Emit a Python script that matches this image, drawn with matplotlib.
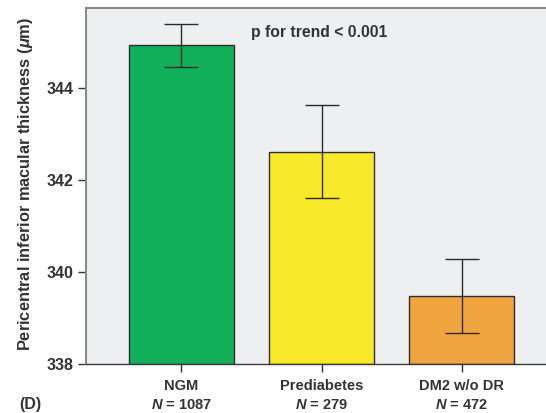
import matplotlib
matplotlib.use("Agg")
import matplotlib.pyplot as plt

plt.rcParams['font.family'] = ['Liberation Sans', 'DejaVu Sans']
plt.rcParams['mathtext.fontset'] = 'custom'
plt.rcParams['mathtext.bf'] = 'Liberation Sans:bold:italic'
plt.rcParams['mathtext.it'] = 'Liberation Sans:bold:italic'
plt.rcParams['mathtext.rm'] = 'Liberation Sans:bold'

groups = ["NGM", "Prediabetes", "DM2 w/o DR"]
counts = [1087, 279, 472]
means = [344.93, 342.62, 339.48]
errors = [0.47, 1.01, 0.81]
bar_colors = ["#12b05a", "#f7e829", "#f0a43f"]
yticks = [338, 340, 342, 344]

fig = plt.figure(figsize=(5.46, 4.13), dpi=100)
# axes box runs slightly past the right edge of the figure
ax = fig.add_axes([86 / 546, 1 - 364 / 413, (557 - 86) / 546, (364 - 8) / 413])
ax.set_facecolor("#eeeff1")

x = list(range(len(groups)))
ax.bar(x, [m - 338 for m in means], bottom=338, width=0.75,
       color=bar_colors, edgecolor="#2e2e2e", linewidth=1.0, zorder=2)
ax.errorbar(x, means, yerr=errors, fmt="none", ecolor="#2a2a2a",
            elinewidth=1.0, capsize=12, capthick=1.0, zorder=3)

ax.set_xlim(-0.68, 2.68)
ax.set_ylim(338, 345.74)
ax.set_yticks(yticks)
ax.set_yticklabels([str(t) for t in yticks], fontsize=11.5, fontweight="bold",
                   color="#333333")
ax.set_xticks(x)
ax.set_xticklabels([])
ax.tick_params(axis="both", direction="out", length=6, width=1.0,
               color="#333333", pad=3)

for side in ["left", "top", "right"]:
    ax.spines[side].set_color("#8a8a8a")
    ax.spines[side].set_linewidth(1.5)
ax.spines["bottom"].set_color("#3a3a3a")
ax.spines["bottom"].set_linewidth(1.0)

for xi, g, n in zip(x, groups, counts):
    ax.annotate(g, xy=(xi, 0), xycoords=("data", "axes fraction"),
                xytext=(0, -22), textcoords="offset pixels",
                ha="center", va="center", fontsize=10.5, fontweight="bold",
                color="#333333")
    ax.annotate(f"$\\mathit{{N}}$ = {n}", xy=(xi, 0),
                xycoords=("data", "axes fraction"),
                xytext=(0, -41), textcoords="offset pixels",
                ha="center", va="center", fontsize=10.5, fontweight="bold",
                color="#333333")

fig.text(26 / 546, 1 - 184 / 413,
         r"Pericentral inferior macular thickness ($\mathit{\mu}$m)",
         rotation=90, ha="center", va="center", fontsize=11.8,
         fontweight="bold", color="#333333")
fig.text(30 / 546, 1 - 404 / 413, "(D)", ha="center", va="center",
         fontsize=11.5, fontweight="bold", color="#333333")
fig.text(319 / 546, 1 - 32 / 413, "p for trend < 0.001", ha="center",
         va="center", fontsize=11.3, fontweight="bold", color="#333333")

fig.savefig("out.png", dpi=100, facecolor="white")
